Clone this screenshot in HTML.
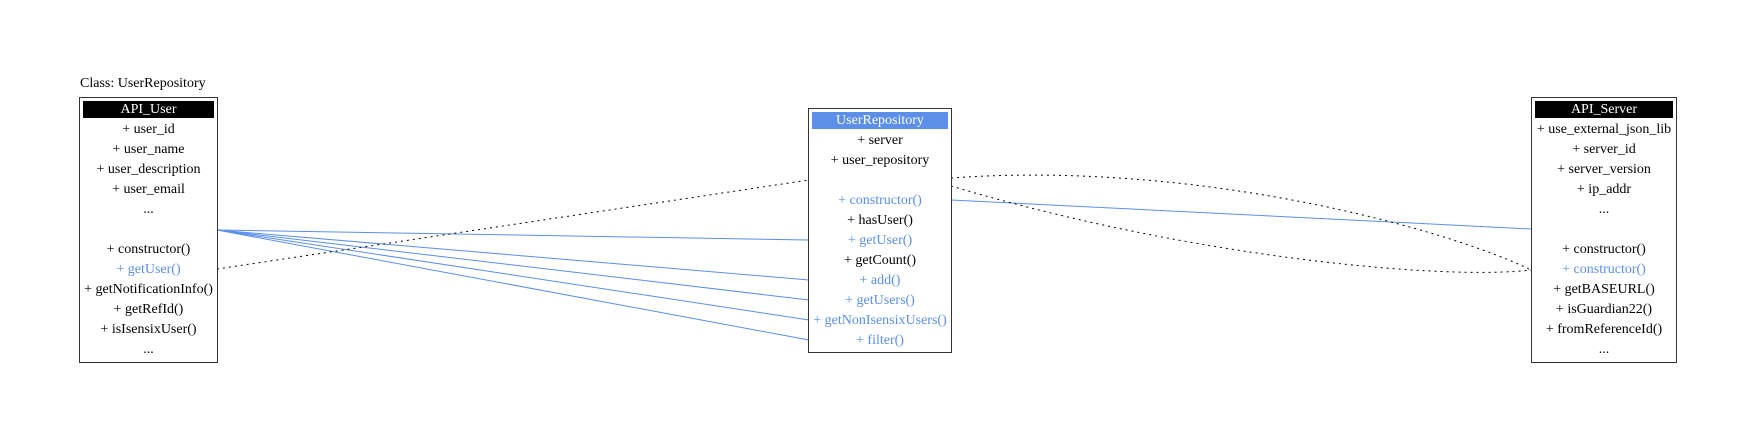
<!DOCTYPE html>
<html><head><style>
body{margin:0;width:1756px;height:438px;background:#fff;position:relative;font-family:"Liberation Serif",serif;font-size:14px;overflow:hidden}
.box{position:absolute;border:1px solid #333;background:#fff;box-sizing:border-box}
.hd{margin:3px 3px 2px 3px;height:17px;line-height:18px;text-align:center;color:#fff;background:#000}
.r{height:20px;line-height:20px;text-align:center;white-space:nowrap}
.b{color:#5b8fe8}
svg{position:absolute;left:0;top:0}
</style></head><body>
<div style="position:absolute;left:80px;top:76px;font-size:14px">Class: UserRepository</div>
<svg width="1756" height="438">
<g stroke="#5b8fe8" stroke-width="1" fill="none">
<line x1="217" y1="230" x2="809" y2="240"/>
<line x1="217" y1="230" x2="809" y2="280"/>
<line x1="217" y1="230" x2="809" y2="300"/>
<line x1="217" y1="230" x2="809" y2="320"/>
<line x1="217" y1="230" x2="809" y2="340"/>
<line x1="951" y1="200" x2="1531" y2="229"/>
</g>
<g stroke="#000" stroke-width="1" fill="none" stroke-dasharray="2,4">
<line x1="217" y1="269" x2="809" y2="180"/>
<path d="M951 178 C1200 160 1450 230 1531 270"/>
<path d="M951 186 C1200 260 1450 280 1531 270"/>
</g>
</svg>
<div class="box" style="left:79px;top:97px;width:139px;height:266px">
<div class="hd">API_User</div>
<div class="r">+ user_id</div><div class="r">+ user_name</div><div class="r">+ user_description</div><div class="r">+ user_email</div><div class="r">...</div><div class="r"></div>
<div class="r">+ constructor()</div><div class="r b">+ getUser()</div><div class="r">+ getNotificationInfo()</div><div class="r">+ getRefId()</div><div class="r">+ isIsensixUser()</div><div class="r">...</div>
</div>
<div class="box" style="left:808px;top:108px;width:144px;height:245px">
<div class="hd" style="background:#5b8fe8">UserRepository</div>
<div class="r">+ server</div><div class="r">+ user_repository</div><div class="r"></div>
<div class="r b">+ constructor()</div><div class="r">+ hasUser()</div><div class="r b">+ getUser()</div><div class="r">+ getCount()</div><div class="r b">+ add()</div><div class="r b">+ getUsers()</div><div class="r b">+ getNonIsensixUsers()</div><div class="r b">+ filter()</div>
</div>
<div class="box" style="left:1531px;top:97px;width:146px;height:266px">
<div class="hd">API_Server</div>
<div class="r">+ use_external_json_lib</div><div class="r">+ server_id</div><div class="r">+ server_version</div><div class="r">+ ip_addr</div><div class="r">...</div><div class="r"></div>
<div class="r">+ constructor()</div><div class="r b">+ constructor()</div><div class="r">+ getBASEURL()</div><div class="r">+ isGuardian22()</div><div class="r">+ fromReferenceId()</div><div class="r">...</div>
</div>
</body></html>
